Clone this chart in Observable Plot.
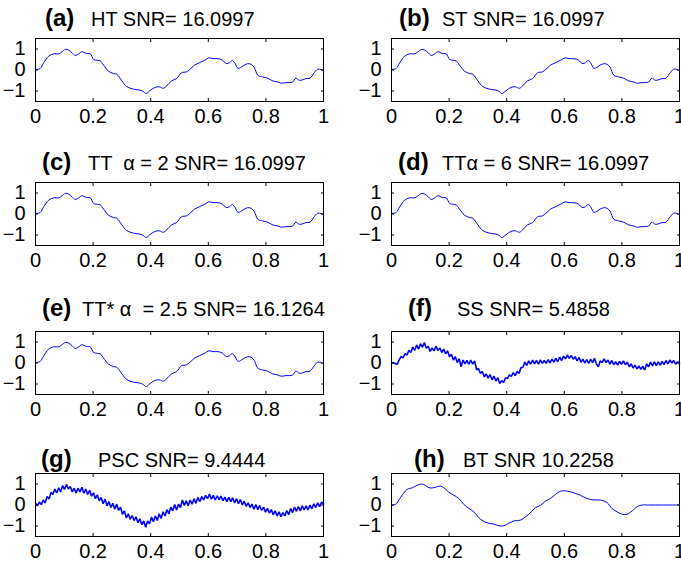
<!DOCTYPE html>
<html><head><meta charset="utf-8">
<script src="https://cdn.jsdelivr.net/npm/d3@7"></script>
<script src="https://cdn.jsdelivr.net/npm/@observablehq/plot@0.6"></script>
<style>
html,body{margin:0;padding:0;background:#fff;}
#wrap{position:relative;width:681px;height:566px;overflow:hidden;background:#fff;}
#wrap svg{position:absolute;}
</style></head><body><div id="wrap"></div>
<script>
// ---- data ----
const xTicks = [0, 0.2, 0.4, 0.6, 0.8, 1];
const yTicks = [-1, 0, 1];

// denoised signal (HT / ST / TT / TT*)
const htX = [0,0.015,0.029,0.046,0.063,0.081,0.092,0.104,0.115,0.127,0.138,0.15,0.161,0.176,0.19,0.202,0.215,0.225,0.236,0.253,0.271,0.282,0.3,0.317,0.34,0.363,0.374,0.384,0.397,0.415,0.43,0.444,0.455,0.472,0.49,0.507,0.524,0.536,0.553,0.57,0.588,0.603,0.616,0.634,0.649,0.662,0.674,0.683,0.691,0.703,0.711,0.726,0.737,0.749,0.76,0.772,0.789,0.806,0.824,0.841,0.853,0.87,0.881,0.893,0.904,0.916,0.927,0.939,0.953,0.968,0.979,0.991,1];
const htY = [0.03,0.06,0.35,0.66,0.77,0.77,0.87,0.98,0.95,0.82,0.69,0.77,0.87,0.79,0.77,0.5,0.46,0.43,0.24,-0.05,-0.17,-0.2,-0.52,-0.79,-0.91,-0.96,-1.02,-1.12,-0.99,-0.83,-0.8,-0.87,-0.76,-0.52,-0.41,-0.13,-0.09,0.03,0.24,0.35,0.47,0.58,0.54,0.54,0.47,0.31,0.35,0.46,0.35,0.08,0.11,0.24,0.3,0.27,0.11,-0.25,-0.33,-0.39,-0.52,-0.57,-0.63,-0.6,-0.6,-0.57,-0.39,-0.49,-0.47,-0.41,-0.39,-0.13,0.03,0.03,-0.05];

// BT signal
const btX = [0,0.014,0.031,0.054,0.072,0.089,0.104,0.118,0.13,0.145,0.159,0.17,0.182,0.199,0.216,0.234,0.251,0.269,0.286,0.303,0.318,0.338,0.355,0.373,0.39,0.407,0.425,0.448,0.465,0.483,0.5,0.517,0.535,0.552,0.569,0.587,0.61,0.633,0.656,0.679,0.703,0.726,0.749,0.766,0.784,0.801,0.818,0.836,0.853,0.87,0.89,1];
const btY = [0,0.03,0.35,0.74,0.82,0.94,1.0,0.93,0.82,0.82,0.87,0.9,0.82,0.61,0.47,0.31,0.03,-0.16,-0.33,-0.6,-0.76,-0.87,-0.91,-0.99,-0.99,-0.87,-0.76,-0.72,-0.57,-0.36,-0.13,-0.02,0.19,0.31,0.5,0.66,0.66,0.58,0.46,0.31,0.24,0.24,0.11,-0.17,-0.33,-0.44,-0.44,-0.28,-0.08,0,0,0];

// SS signal (noisy, evenly sampled)
const ssY = [0.0,0.02,-0.03,-0.06,0.16,0.31,0.24,0.45,0.38,0.6,
0.50,0.76,0.60,0.86,0.66,0.92,0.75,0.97,0.70,0.80,
0.55,0.72,0.58,0.80,0.60,0.72,0.50,0.66,0.44,0.58,
0.30,0.42,0.14,0.30,0.02,0.20,-0.18,0.14,-0.04,0.12,
-0.06,0.14,-0.05,0.10,-0.32,-0.26,-0.50,-0.40,-0.66,-0.52,
-0.72,-0.55,-0.80,-0.62,-0.86,-0.70,-0.98,-0.84,-0.92,-0.70,
-0.74,-0.56,-0.64,-0.46,-0.60,-0.40,-0.50,-0.22,-0.20,0.04,
-0.12,0.10,-0.06,0.14,-0.04,0.12,-0.06,0.15,-0.02,0.12,
-0.02,0.16,0.00,0.18,0.04,0.22,0.06,0.28,0.12,0.32,
0.20,0.38,0.22,0.36,0.18,0.30,0.10,0.26,0.04,0.18,
0.00,0.16,-0.02,0.18,0.02,0.22,-0.04,-0.18,0.10,0.02,
0.20,0.02,0.14,-0.06,0.12,-0.08,0.06,-0.10,0.08,-0.06,
0.10,-0.08,0.04,-0.18,-0.04,-0.24,-0.10,-0.28,-0.14,-0.30,
-0.16,-0.34,-0.04,-0.18,0.04,-0.14,0.06,-0.12,0.06,-0.10,
0.08,-0.08,0.12,-0.04,0.14,0.00,0.12,-0.06,0.06,-0.02];

// PSC signal (noisy, evenly sampled)
const pscY = [0.10,-0.04,0.14,0.02,0.24,0.10,0.40,0.28,0.60,0.50,
0.76,0.58,0.82,0.62,0.92,0.74,0.98,0.76,0.88,0.62,
0.80,0.58,0.80,0.62,0.84,0.56,0.76,0.50,0.70,0.42,
0.58,0.30,0.48,0.20,0.36,0.06,0.28,-0.04,0.16,-0.12,
0.08,-0.20,0.04,-0.26,-0.10,-0.44,-0.28,-0.62,-0.42,-0.68,
-0.50,-0.74,-0.56,-0.84,-0.66,-0.94,-0.76,-1.06,-0.76,-0.90,
-0.58,-0.80,-0.52,-0.74,-0.42,-0.64,-0.32,-0.52,-0.22,-0.42,
-0.10,-0.28,0.02,-0.24,0.04,-0.12,0.24,-0.02,0.20,-0.04,
0.24,0.04,0.30,0.08,0.36,0.16,0.40,0.24,0.46,0.30,
0.52,0.28,0.46,0.24,0.44,0.26,0.42,0.20,0.38,0.16,
0.36,0.16,0.34,0.10,0.30,0.06,0.26,0.00,0.18,-0.06,
0.10,-0.12,0.04,-0.20,0.02,-0.22,-0.02,-0.26,-0.10,-0.34,
-0.16,-0.38,-0.22,-0.46,-0.28,-0.52,-0.32,-0.56,-0.36,-0.52,
-0.26,-0.46,-0.16,-0.36,-0.10,-0.30,-0.08,-0.28,-0.04,-0.24,
-0.04,-0.24,0.00,-0.18,0.06,-0.12,0.10,-0.08,0.14,0.04];

const panelTags = ["(a)","(b)","(c)","(d)","(e)","(f)","(g)","(h)"];
const panelNames = ["HT SNR= 16.0997","ST SNR= 16.0997","TT  \u03b1 = 2 SNR= 16.0997","TT\u03b1 = 6 SNR= 16.0997","TT* \u03b1  = 2.5 SNR= 16.1264","SS SNR= 5.4858","PSC SNR= 9.4444","BT SNR 10.2258"];
const panelSeries = ["ht","ht","ht","ht","ht","ss","psc","bt"];

// ---- tables ----
const smooth = htX.map((x, i) => ({x, y: htY[i]}));
const bt = btX.map((x, i) => ({x, y: btY[i]}));
const ss = ssY.map((y, i) => ({x: i / (ssY.length - 1), y}));
const psc = pscY.map((y, i) => ({x: i / (pscY.length - 1), y}));
const seriesTables = {ht: smooth, bt, ss, psc};

// ---- layout ----
const rowTop = [38, 182, 331, 473];
const titleBase = [26, 170, 316, 467];
const tagX = [45, 399, 42, 398, 42, 408, 41, 414];
const nameX = [91, 442, 88, 442, 82, 457, 98, 463];
const boxH = 63, mT = 5, mB = 32;

const fmt = d => d < 0 ? "\u2212" + Math.abs(d) : String(d);
const blank = () => "";
const wrap = document.getElementById("wrap");

panelSeries.forEach((key, i) => {
  const col = i % 2, row = Math.floor(i / 2);
  const noisy = key === "ss" || key === "psc";
  const chart = Plot.plot({
    width: col ? 341 : 340,
    height: mT + boxH + mB,
    marginLeft: col ? 51 : 35,
    marginRight: col ? 2 : 17,
    marginTop: mT,
    marginBottom: mB,
    x: {domain: [0, 1]},
    y: {domain: [-1.5, 1.5]},
    style: {fontFamily: "'Liberation Sans', Arial, sans-serif", fontSize: "20px", background: "transparent", overflow: "visible", color: "#000"},
    marks: [
      Plot.line(seriesTables[key], {x: "x", y: "y", stroke: "#0000ff", strokeWidth: noisy ? 1.6 : 1, strokeLinejoin: "miter", curve: noisy ? "linear" : "catmull-rom"}),
      Plot.frame({stroke: "#000", strokeWidth: 1}),
      Plot.axisX(xTicks, {anchor: "bottom", tickSize: 0, tickPadding: 7, tickFormat: fmt, label: null, fill: "#000"}),
      Plot.axisX(xTicks, {anchor: "bottom", tickSize: 3, dy: -3, tickFormat: blank, label: null, stroke: "#000"}),
      Plot.axisX(xTicks, {anchor: "top", tickSize: 3, dy: 3, tickFormat: blank, label: null, stroke: "#000"}),
      Plot.axisY(yTicks, {anchor: "left", tickSize: 0, tickPadding: 10, tickFormat: fmt, label: null, fill: "#000"}),
      Plot.axisY(yTicks, {anchor: "left", tickSize: 3, dx: 3, tickFormat: blank, label: null, stroke: "#000"}),
      Plot.axisY(yTicks, {anchor: "right", tickSize: 3, dx: -3, tickFormat: blank, label: null, stroke: "#000"})
    ]
  });
  chart.style.left = (col ? 340 : 0) + "px";
  chart.style.top = (rowTop[row] - mT) + "px";
  wrap.appendChild(chart);
});

// titles
const tsvg = d3.select(wrap).append("svg")
  .attr("width", 681).attr("height", 566)
  .style("left", "0px").style("top", "0px")
  .style("font-family", "'Liberation Sans', Arial, sans-serif");
panelTags.forEach((tag, i) => {
  const row = Math.floor(i / 2);
  tsvg.append("text").attr("x", tagX[i]).attr("y", titleBase[row])
    .attr("font-size", 24).attr("font-weight", "bold").text(tag);
  tsvg.append("text").attr("x", nameX[i]).attr("y", titleBase[row])
    .attr("font-size", 20).style("white-space", "pre").text(panelNames[i]);
});
</script></body></html>
